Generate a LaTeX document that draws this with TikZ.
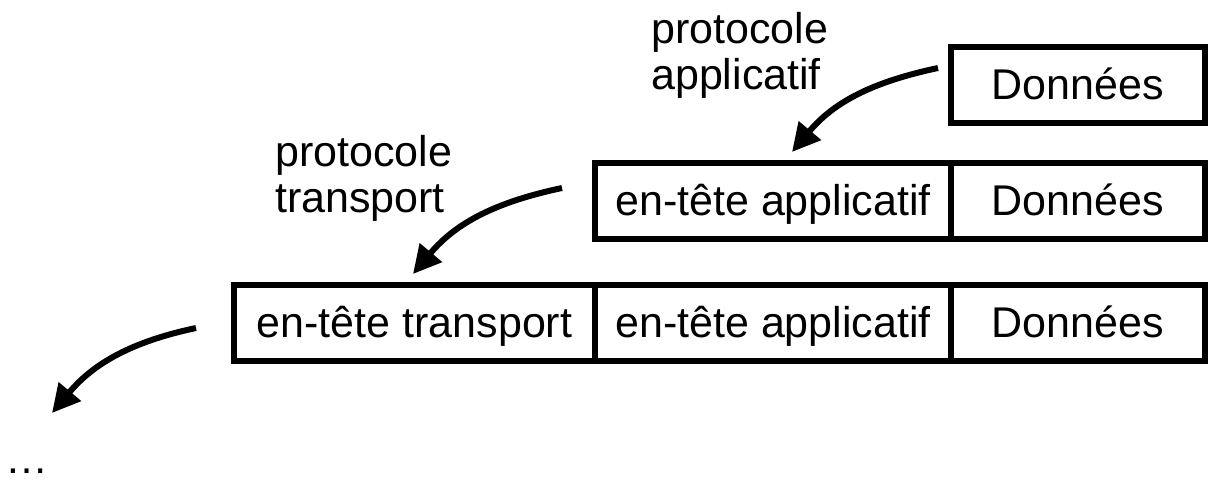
\documentclass[tikz,border=0pt]{standalone}
\usepackage{fontspec}
\setmainfont{Liberation Sans}
\usetikzlibrary{arrows.meta}
\begin{document}
\begin{tikzpicture}[x=1pt,y=1pt,
  cell/.style={draw,line width=6pt,minimum height=76pt,text height=35pt,text depth=5pt,inner sep=0pt,anchor=south west,font=\fontsize{43}{46}\selectfont},
  lbl/.style={align=left,anchor=north west,inner sep=0pt,font=\fontsize{43}{46}\selectfont},
  flow/.style={line width=6pt,-{Triangle[length=28pt,width=28pt]}}]
\useasboundingbox (0,0) rectangle (1226,485);
% row 1
\node[cell,minimum width=254pt] (d1) at (948,359) {Donn\'ees};
% row 2
\node[cell,minimum width=356pt] (a2) at (592,243) {en-t\^ete applicatif};
\node[cell,minimum width=254pt] (d2) at (948,243) {Donn\'ees};
% row 3
\node[cell,minimum width=361pt] (t3) at (231,121) {en-t\^ete transport};
\node[cell,minimum width=356pt] (a3) at (592,121) {en-t\^ete applicatif};
\node[cell,minimum width=254pt] (d3) at (948,121) {Donn\'ees};
% labels
\node[lbl] (l1) at (651,473) {protocole\\applicatif};
\node[lbl] (l2) at (275,350) {protocole\\transport};
\node[anchor=base west,inner sep=0pt,font=\fontsize{43}{46}\selectfont] (dots) at (5,12) {\dots};
% arrows
\coordinate (s1) at (938,417);
\coordinate (e1) at (792,333);
\coordinate (s2) at (562,297);
\coordinate (e2) at (413,211);
\coordinate (s3) at (196,157);
\coordinate (e3) at (52,72);
\draw[flow] (s1) to[out=192,in=50] (e1);
\draw[flow] (s2) to[out=192,in=50] (e2);
\draw[flow] (s3) to[out=192,in=50] (e3);
\end{tikzpicture}
\end{document}
